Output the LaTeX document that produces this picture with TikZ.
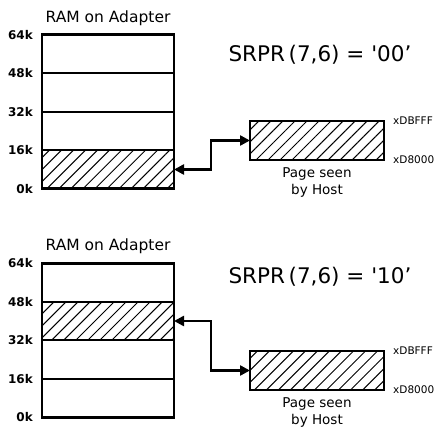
\documentclass[tikz,border=0pt]{standalone}
\usepackage{fontspec}
\setmainfont{DejaVu Sans}
\usetikzlibrary{arrows.meta,positioning,patterns.meta}
\tikzset{seg/.style={draw,line width=1.8pt,minimum width=132pt,minimum height=38.5pt,outer sep=0pt,inner sep=0pt},hatch/.style={pattern={Lines[angle=45,distance=8.5pt,line width=1pt]}},frame/.style={line width=2.6pt},page/.style={seg,hatch,line width=2.4pt,minimum width=134pt,minimum height=39pt},addr/.style={font=\bfseries\fontsize{12}{12}\selectfont,inner sep=0pt},hex/.style={font=\fontsize{10.5}{10.5}\selectfont,inner sep=0pt},ttl/.style={font=\fontsize{15.5}{15.5}\selectfont,inner sep=0pt},big/.style={font=\fontsize{21.5}{21.5}\selectfont,inner sep=0pt},pagetext/.style={font=\fontsize{13.5}{17}\selectfont,align=center,inner sep=0pt},link/.style={{Triangle[length=10pt,width=10pt]}-{Triangle[length=10pt,width=10pt]},line width=2.4pt}}

\begin{document}
\begin{tikzpicture}[x=1pt,y=-1pt]
\useasboundingbox (0,0) rectangle (442,428);
\node[seg,hatch] (a0) at (108,169.5) {};
\node[seg,above=0pt of a0] (a1) {};
\node[seg,above=0pt of a1] (a2) {};
\node[seg,above=0pt of a2] (a3) {};
\draw[frame] (a0.south west) rectangle (a3.north east);
\node[ttl,above=9pt of a3] (ta) {RAM on Adapter};
\node[addr,left=9pt of a0.south west] (ka0) {0k};
\node[addr,left=9pt of a1.south west] (ka1) {16k};
\node[addr,left=9pt of a2.south west] (ka2) {32k};
\node[addr,left=9pt of a3.south west] (ka3) {48k};
\node[addr,left=9pt of a3.north west] (ka4) {64k};
\node[big] (sa) at (320,55) {SRPR\,(7,6) = \textquotesingle00'};
\node[page] (pa) at (317,140.5) {};
\node[hex,right=9pt of pa.north east] (ha1) {xDBFFF};
\node[hex,right=9pt of pa.south east] (ha0) {xD8000};
\node[pagetext,below=7pt of pa] (ca) {Page seen\\by Host};
\draw[link] (a0.east) -- ++(37,0) |- (pa.west);

\node[seg] (b0) at (108,398) {};
\node[seg,above=0pt of b0] (b1) {};
\node[seg,hatch,above=0pt of b1] (b2) {};
\node[seg,above=0pt of b2] (b3) {};
\draw[frame] (b0.south west) rectangle (b3.north east);
\node[ttl,above=9pt of b3] (tb) {RAM on Adapter};
\node[addr,left=9pt of b0.south west] (kb0) {0k};
\node[addr,left=9pt of b1.south west] (kb1) {16k};
\node[addr,left=9pt of b2.south west] (kb2) {32k};
\node[addr,left=9pt of b3.south west] (kb3) {48k};
\node[addr,left=9pt of b3.north west] (kb4) {64k};
\node[big] (sb) at (320,277) {SRPR\,(7,6) = \textquotesingle10'};
\node[page] (pb) at (317,370.5) {};
\node[hex,right=9pt of pb.north east] (hb1) {xDBFFF};
\node[hex,right=9pt of pb.south east] (hb0) {xD8000};
\node[pagetext,below=7pt of pb] (cb) {Page seen\\by Host};
\draw[link] (b2.east) -- ++(37,0) |- (pb.west);
\end{tikzpicture}
\end{document}
